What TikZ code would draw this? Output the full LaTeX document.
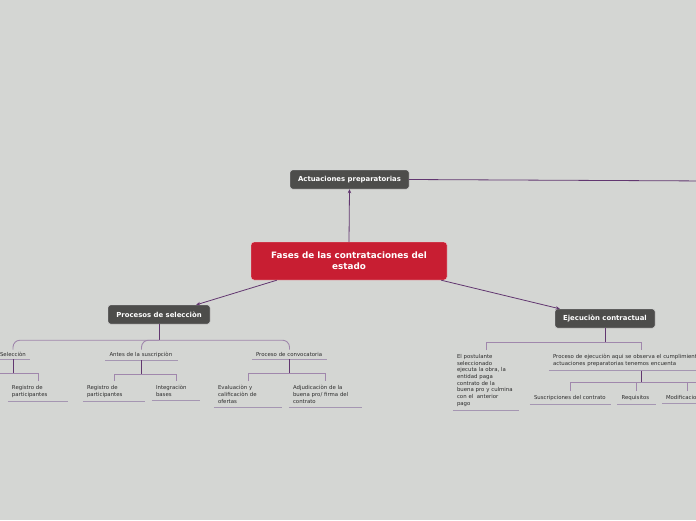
\documentclass[tikz,border=0pt]{standalone}
\usepackage{fontspec}
\setmainfont{DejaVu Sans}
\usepackage{xcolor}
\definecolor{mmbg}{RGB}{212,214,211}
\definecolor{mmgray}{RGB}{77,77,75}
\definecolor{mmred}{RGB}{200,30,50}
\definecolor{mmlink}{RGB}{98,55,112}
\definecolor{mmbranch}{RGB}{160,135,172}
\definecolor{mmline}{RGB}{165,150,178}
\definecolor{mmtext}{RGB}{45,45,45}
\usetikzlibrary{arrows.meta,positioning,calc}
\tikzset{
  topic/.style={draw=white!80!mmgray, fill=mmgray, rounded corners=2.5pt, text=white, font=\fontsize{6.9}{8}\selectfont\bfseries, minimum height=19, inner sep=0pt},
  central/.style={draw=white!80!mmred, fill=mmred, rounded corners=3pt, text=white, font=\fontsize{8.8}{11}\selectfont\bfseries, minimum width=196, minimum height=38, align=center, inner sep=0pt},
  uline/.style={draw=mmline, line width=1.1pt},
  leaf/.style={anchor=north, align=left, text=mmtext, font=\fontsize{5.4}{7}\selectfont, inner xsep=4pt, inner ysep=4pt,
    append after command={(\tikzlastnode.south west) edge[uline] (\tikzlastnode.south east)}},
  subtopic/.style={leaf, inner ysep=2.5pt},
  link/.style={-{Stealth[length=4pt,width=3.5pt]}, draw=mmlink, line width=0.8pt},
  stem/.style={draw=mmlink, line width=0.8pt},
  branch/.style={draw=mmbranch, line width=0.9pt}
}

\begin{document}
\begin{tikzpicture}[x=1pt,y=-1pt]
  \fill[mmbg] (0,0) rectangle (696,520);
  \useasboundingbox (0,0) rectangle (696,520);
  \clip (0,0) rectangle (696,520);

  % main topics
  \node[central] (cen) at (349,261) {Fases de las contrataciones del\\estado};
  \node[topic, minimum width=119] (act) at (349.5,179.5) {Actuaciones preparatorias};
  \node[topic, minimum width=102] (proc) at (159,314.5) {Procesos de selecciòn};
  \node[topic, minimum width=100] (ejec) at (605,318.5) {Ejecuciòn contractual};
  \coordinate (actout) at (710,181);

  \draw[link] (cen.north) -- (act.south);
  \draw[link] ($(cen.south west)+(26,0)$) -- ($(proc.north east)+(-14,0)$);
  \draw[link] ($(cen.south east)+(-6,0)$) -- ($(ejec.north west)+(5,0)$);
  \draw[stem] (act.east) -- (actout);

  % Procesos de seleccion
  \node[subtopic, text width=26] (sel) at (13,349.5) {Selecciòn};
  \node[subtopic, text width=64] (antes) at (141.5,349.5) {Antes de la suscripciòn};
  \node[subtopic, text width=67] (conv) at (289.5,349.5) {Proceso de convocatoria};
  \coordinate (pj) at ($(proc.south)+(0,16)$);
  \draw[stem] (proc.south) -- (pj);
  \draw[branch, rounded corners=7pt] (sel.north) |- (pj) -| (conv.north);
  \draw[branch, rounded corners=7pt] (antes.north) |- (pj);

  \node[leaf, text width=52] (reg1) at (38,381) {Registro de\\participantes};
  \node[leaf, text width=54] (reg2) at (114,381) {Registro de\\participantes};
  \node[leaf, text width=40] (integ) at (176,381) {Integraciòn\\bases};
  \node[leaf, text width=60] (eval) at (248,381) {Evaluaciòn y\\calificaciòn de\\ofertas};
  \node[leaf, text width=65] (adj) at (325.5,381) {Adjudicaciòn de la\\buena pro/ firma del\\contrato};

  \coordinate (sj) at ($(sel.south)+(0,14)$);
  \coordinate (selout) at ($(sj)+(-40,0)$);
  \draw[stem] (sel.south) -- (sj);
  \draw[branch] (reg1.north) |- (sj) -- (selout);

  \coordinate (aj) at ($(antes.south)+(0,14)$);
  \draw[stem] (antes.south) -- (aj);
  \draw[branch] (reg2.north) |- (aj) -| (integ.north);

  \coordinate (cj) at ($(conv.south)+(0,14)$);
  \draw[stem] (conv.south) -- (cj);
  \draw[branch] (eval.north) |- (cj) -| (adj.north);

  % Ejecucion contractual
  \node[leaf, text width=58, font=\fontsize{5.4}{6.7}\selectfont] (post) at (486,350) {El postulante\\seleccionado\\ejecuta la obra, la\\entidad paga\\contrato de la\\buena pro y culmina\\con el\ \ anterior\\pago};
  \node[leaf, text width=176, font=\fontsize{5.4}{6.7}\selectfont] (pej) at (641,350) {Proceso de ejecuciòn aqui se observa el cumplimiento\\actuaciones preparatorias tenemos encuenta};
  \coordinate (ej) at ($(ejec.south)+(0,14)$);
  \draw[stem] (ejec.south) -- (ej);
  \draw[branch] (post.north) |- (ej) -| (pej.north);

  \node[leaf, text width=73] (sus) at (570.5,391) {Suscripciones del contrato};
  \node[leaf, text width=30] (req) at (636.5,391) {Requisitos};
  \node[leaf, text width=42] (mod) at (687,391) {Modificaciones};
  \coordinate (pjj) at ($(pej.south)+(0,12)$);
  \coordinate (pejout) at ($(pjj)+(80,0)$);
  \draw[stem] (pej.south) -- (pjj);
  \draw[branch] (sus.north) |- (pjj) -- (pejout);
  \draw[branch] (req.north) |- (pjj);
  \draw[branch] (mod.north) |- (pjj);
\end{tikzpicture}
\end{document}
